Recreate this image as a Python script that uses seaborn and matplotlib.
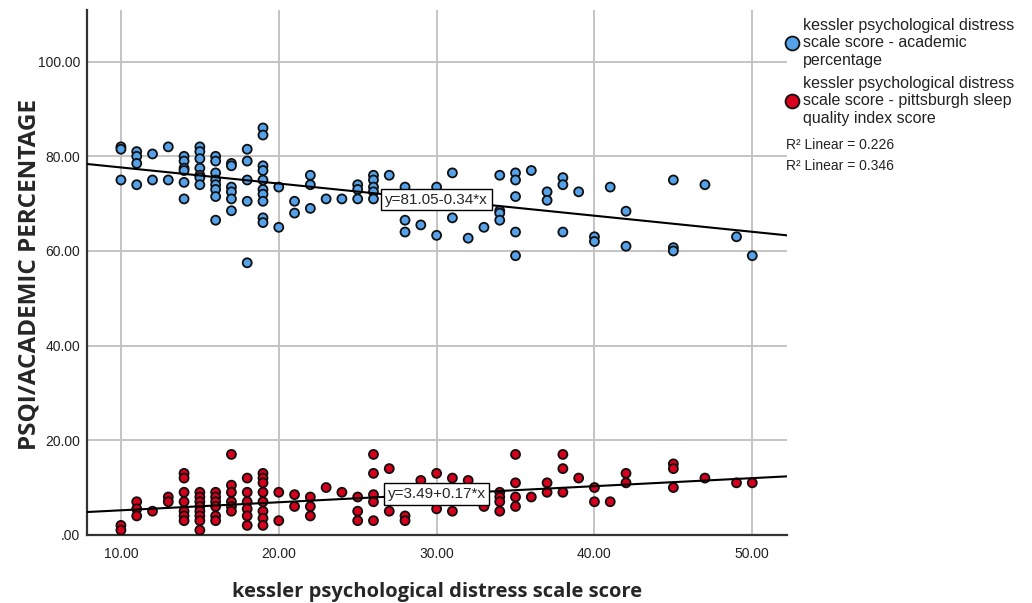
"""Kessler distress vs academic percentage / PSQI, SPSS-style scatter with linear fits."""

import matplotlib.pyplot as plt
import pandas as pd
import seaborn as sns
from matplotlib.lines import Line2D
from matplotlib.ticker import FuncFormatter

# academic percentage vs kessler score
academic_x = [10, 10, 10, 11, 11, 11, 11, 12, 12, 13, 13,
              14, 14, 14, 14, 14, 14, 15, 15, 15, 15, 15, 15, 15,
              16, 16, 16, 16, 16, 16, 16, 16, 17, 17, 17, 17, 17, 17,
              18, 18, 18, 18, 18, 19, 19, 19, 19, 19, 19, 19, 19, 19, 19,
              20, 20, 21, 21, 22, 22, 22, 23, 24, 25, 25, 25,
              26, 26, 26, 26, 26, 27, 28, 28, 28, 29, 30, 30, 31, 31, 32, 33,
              34, 34, 34, 34, 35, 35, 35, 35, 35, 36, 37, 37, 38, 38, 38, 39,
              40, 40, 41, 42, 42, 45, 45, 45, 47, 49, 50]
academic_y = [82, 81.5, 75, 81, 80, 78.5, 74, 80.5, 75, 82, 75,
              80, 79, 77.5, 77, 74.5, 71, 82, 81, 79.5, 77.5, 76, 75.5, 74,
              80, 79, 76.5, 75, 74, 73, 71.5, 66.5, 78.5, 78, 73.5, 72.5, 71, 68.5,
              81.5, 79, 75, 70.5, 57.5, 86, 84.5, 78, 77, 75, 73, 72, 70.5, 67, 66,
              73.5, 65, 70.5, 68, 76, 74, 69, 71, 71, 74, 73, 71,
              76, 75, 73.5, 72.5, 71, 76, 73.5, 66.5, 64, 65.5, 73.5, 63.3, 76.5, 67, 62.7, 65,
              76, 68.5, 68, 66.5, 76.5, 75, 71.5, 64, 59, 77, 72.5, 70.7, 75.5, 74, 64, 72.5,
              63, 62, 73.5, 68.4, 61, 75, 60.7, 60, 74, 63, 59]

# PSQI score vs kessler score
psqi_x = [10, 10, 11, 11, 11, 12, 13, 13,
          14, 14, 14, 14, 14, 14, 14, 15, 15, 15, 15, 15, 15, 15, 15,
          16, 16, 16, 16, 16, 16, 17, 17, 17, 17, 17, 17,
          18, 18, 18, 18, 18, 18, 19, 19, 19, 19, 19, 19, 19, 19,
          20, 20, 21, 21, 22, 22, 22, 23, 24, 25, 25, 25,
          26, 26, 26, 26, 26, 27, 27, 28, 28, 29, 30, 30, 31, 31, 32, 33,
          34, 34, 34, 34, 35, 35, 35, 35, 36, 37, 37, 38, 38, 38, 39,
          40, 40, 41, 42, 42, 45, 45, 45, 47, 49, 50]
psqi_y = [2, 1, 7, 5.5, 4, 5, 8, 7,
          13, 12, 9, 7, 5, 4, 3, 9, 8, 7, 6, 5, 4, 3, 1,
          9, 8, 7, 6, 4, 3, 17, 10.5, 9, 7, 6, 5,
          12, 9, 7, 5.5, 4, 2, 13, 12, 11, 9, 7, 5, 3.5, 2,
          9, 3, 8.5, 6, 8, 6, 4, 10, 9, 8, 5, 3,
          17, 13, 8.5, 7, 3, 14, 5, 4, 3, 11.5, 13, 5.5, 12, 5, 11.5, 6,
          9, 8, 7, 5, 17, 11, 8, 6, 8, 11, 9, 17, 14, 9, 12,
          10, 7, 7, 13, 11, 15, 14, 10, 12, 11, 11]

series_labels = [
    "kessler psychological distress\nscale score - academic\npercentage",
    "kessler psychological distress\nscale score - pittsburgh sleep\nquality index score",
]
fit_intercepts = [81.05, 3.49]
fit_slopes = [-0.34, 0.17]
fit_labels = ["y=81.05-0.34*x", "y=3.49+0.17*x"]
r2_labels = ["R² Linear = 0.226", "R² Linear = 0.346"]

COLORS = ["#55a2ea", "#d6001c"]


def _spss_fmt(v, _pos):
    s = f"{v:.2f}"
    return s[1:] if s.startswith("0") else s


def main() -> None:
    sns.set_style("white")
    plt.rcParams["font.family"] = ["Liberation Sans", "DejaVu Sans"]

    df = pd.concat([
        pd.DataFrame({"kessler": academic_x, "value": academic_y, "series": series_labels[0]}),
        pd.DataFrame({"kessler": psqi_x, "value": psqi_y, "series": series_labels[1]}),
    ])

    fig = plt.figure(figsize=(10.32, 6.03), dpi=100)
    ax = fig.add_axes([0.0843, 0.113, 0.6783, 0.871])

    ax.set_xlim(7.85, 52.2)
    ax.set_ylim(0, 111)
    ax.set_xticks([10, 20, 30, 40, 50])
    ax.set_yticks([0, 20, 40, 60, 80, 100])
    ax.grid(True, color="#c4c4c4", linewidth=1.4)
    ax.set_axisbelow(True)

    sns.scatterplot(data=df, x="kessler", y="value", hue="series", palette=COLORS,
                    s=42, edgecolor="#101010", linewidth=1.3, legend=False, ax=ax, zorder=3)

    for b, m, txt in zip(fit_intercepts, fit_slopes, fit_labels):
        ax.axline((0, b), slope=m, color="black", linewidth=1.5, zorder=4)
        ax.text(30, b + m * 30, txt, ha="center", va="center", fontsize=11, zorder=5,
                family=["Liberation Sans Narrow", "Liberation Sans"],
                bbox=dict(boxstyle="square,pad=0.25", facecolor="white", edgecolor="black", linewidth=1))

    ax.xaxis.set_major_formatter(FuncFormatter(_spss_fmt))
    ax.yaxis.set_major_formatter(FuncFormatter(_spss_fmt))
    ax.tick_params(axis="both", labelsize=10, colors="#222222", length=0)
    ax.tick_params(axis="y", pad=5)
    ax.tick_params(axis="x", pad=9)

    sns.despine(ax=ax)
    for side in ("left", "bottom"):
        ax.spines[side].set_color("#333333")
        ax.spines[side].set_linewidth(1.6)

    ax.set_xlabel("kessler psychological distress scale score", fontsize=14.5, fontweight="bold",
                  family="Open Sans", va="center")
    ax.set_ylabel("PSQI/ACADEMIC PERCENTAGE", fontsize=17.5, fontweight="bold",
                  family="Open Sans", va="center")
    ax.xaxis.set_label_coords(0.5, (535 - 592) / 525)
    ax.yaxis.set_label_coords((30 - 87) / 700, (535 - 275) / 525)

    handles = [Line2D([], [], marker="o", linestyle="none", markersize=10,
                      markerfacecolor=c, markeredgecolor="#101010", markeredgewidth=1.3)
               for c in COLORS]
    leg = fig.legend(handles, series_labels, loc="upper left", bbox_to_anchor=(783 / 1032, 1 - 18 / 603),
                     frameon=False, fontsize=11.5, handletextpad=0.15, labelspacing=0.5,
                     handlelength=1.1, borderaxespad=0, borderpad=0)
    for t in leg.get_texts():
        t.set_linespacing(1.2)
        t.set_color("#222222")
    for i, txt in enumerate(r2_labels):
        fig.text(786 / 1032, 1 - (145 + 21 * i) / 603, txt, fontsize=10, va="center", ha="left",
                 color="#222222")

    fig.savefig("out.png", dpi=100)
    plt.close(fig)


if __name__ == "__main__":
    main()
